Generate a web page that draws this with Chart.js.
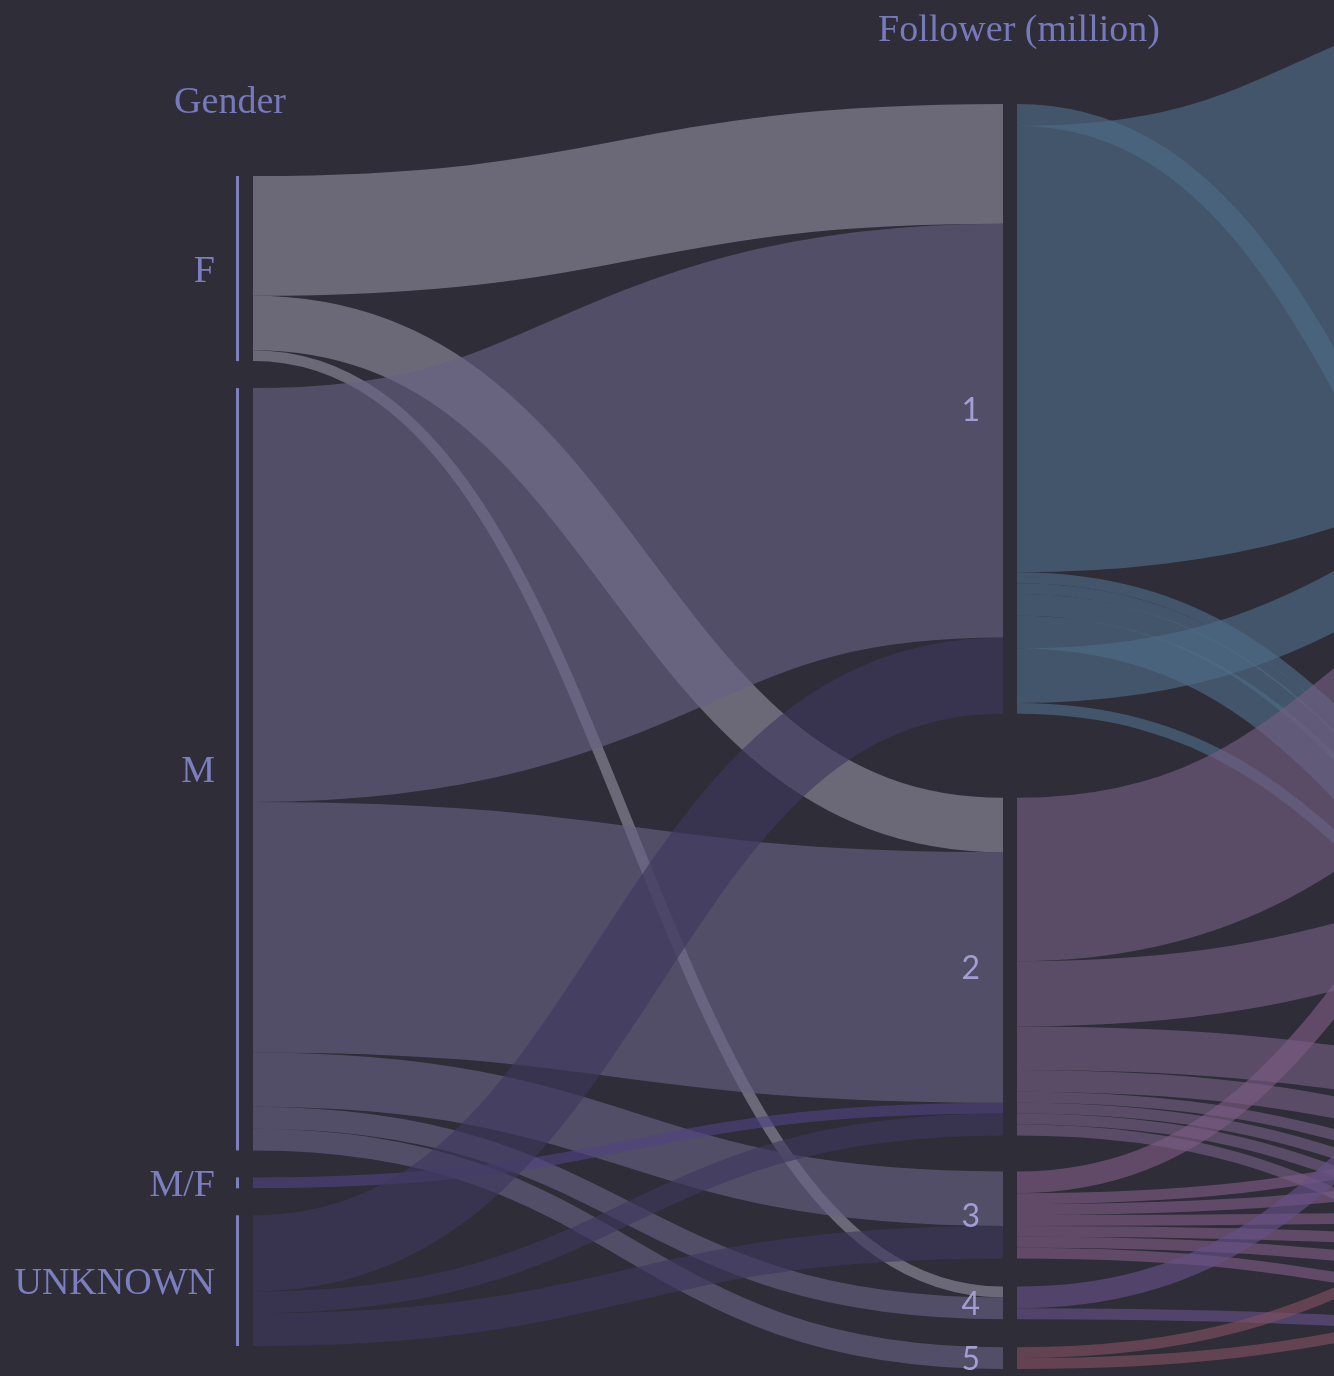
<!DOCTYPE html>
<html>
<head>
<meta charset="utf-8">
<script src="https://cdn.jsdelivr.net/npm/chart.js@4.4.1/dist/chart.umd.min.js"></script>
<style>
  html, body { margin: 0; padding: 0; background: #2e2d38; }
  #wrap { width: 1334px; height: 1376px; }
</style>
</head>
<body>
<div id="wrap"><canvas id="chart" width="1334" height="1376"></canvas></div>
<script>
// ---- data -------------------------------------------------------------
const axisTitles = ['Gender', 'Follower (million)'];
const genderCats = ['F', 'M', 'M/F', 'UNKNOWN'];
const followerCats = ['1', '2', '3', '4', '5'];

// accounts per gender (rows) and follower band (columns)
const genderFollower = [
  [11, 5, 0, 1, 0],
  [38, 23, 5, 2, 2],
  [0, 1, 0, 0, 0],
  [7, 2, 3, 0, 0]
];

// third dimension, whose axis sits past the right edge of the canvas
const nextGroups = ['g1', 'g2', 'g3', 'g4', 'g5', 'g6', 'g7', 'g8', 'g9', 'g10', 'g11', 'g12', 'g13'];
// follower band -> group flows, in the order they leave each band
const nextFrom  = [0, 0, 0, 0, 0, 0, 0, 0,   1, 1, 1, 1, 1, 1, 1, 1,   2, 2, 2, 2, 2, 2, 2,   3, 3,   4, 4];
const nextTo    = [2, 0, 3, 4, 5, 6, 1, 7,   1, 2, 7, 8, 9, 10, 11, 12, 1, 7, 8, 9, 10, 11, 12, 2, 12,  8, 11];
const nextCount = [2, 41, 1, 1, 2, 3, 5, 1,  15, 6, 4, 2, 1, 1, 1, 1,  2, 1, 1, 1, 1, 1, 1,   2, 1,   1, 1];

// ---- layout & style ---------------------------------------------------
const layout = {
  nodeWidth: 14,
  // vertical placement of each axis in account units: first node top, gaps between nodes
  axes: [
    { top: 16.16, gaps: [2.48, 2.48, 2.48] },
    { top: 9.55, gaps: [7.71, 3.31, 2.57, 2.57] },
    { top: -3.95, gaps: [3.08, 14.45, 0.93, 0.93, 0.93, 0.93, 0.93, 0.93, 0.93, 0.93, 0.93, 0.93] }
  ]
};
const style = {
  background: '#2e2d38',
  linkAlpha: 0.65,
  genderColors: ['#8c899a', '#676182', '#4e437f', '#3d395d'],
  followerColors: ['#4e6c86', '#725e7f', '#7b5a83', '#655085', '#805060'],
  axisLine: '#7b80c0',
  labelColor: '#7b7fc0',
  tickColor: '#a19ed2',
  titleColor: '#7779bd',
  labelFont: '38px "Liberation Serif", serif',
  tickFont: '32px Lato, "Open Sans", sans-serif'
};

// ---- build nodes and links ---------------------------------------------
function stackNodes(values, axis) {
  const nodes = [];
  let y = axis.top;
  values.forEach((v, i) => {
    if (i > 0) y += axis.gaps[i - 1];
    nodes.push({ y0: y, value: v, outUsed: 0, inUsed: 0 });
    y += v;
  });
  return nodes;
}

const genderTotals = genderFollower.map(r => r.reduce((a, b) => a + b, 0));
const followerTotals = followerCats.map((_, j) => genderFollower.reduce((a, r) => a + r[j], 0));
const groupTotals = nextGroups.map((_, k) =>
  nextCount.reduce((a, v, i) => a + (nextTo[i] === k ? v : 0), 0));

const axesNodes = [
  stackNodes(genderTotals, layout.axes[0]),
  stackNodes(followerTotals, layout.axes[1]),
  stackNodes(groupTotals, layout.axes[2])
];

const links = [];
// gender -> follower
genderFollower.forEach((row, g) => {
  row.forEach((v, f) => {
    if (!v) return;
    links.push({ dim: 0, s: g, t: f, v, color: style.genderColors[g] });
  });
});
// follower -> next group
nextCount.forEach((v, i) => {
  links.push({ dim: 1, s: nextFrom[i], t: nextTo[i], v, color: style.followerColors[nextFrom[i]] });
});

// source offsets follow listing order
links.forEach(l => {
  const sn = axesNodes[l.dim][l.s];
  l.sy = sn.y0 + sn.outUsed + l.v / 2;
  sn.outUsed += l.v;
});
// target offsets follow source node order, then listing order
[0, 1].forEach(dim => {
  const group = links.filter(l => l.dim === dim)
    .map((l, i) => ({ l, i }))
    .sort((a, b) => (a.l.s - b.l.s) || (a.i - b.i));
  group.forEach(({ l }) => {
    const tn = axesNodes[dim + 1][l.t];
    l.ty = tn.y0 + tn.inUsed + l.v / 2;
    tn.inUsed += l.v;
  });
});

function hexToRgba(hex, a) {
  const n = parseInt(hex.slice(1), 16);
  return `rgba(${(n >> 16) & 255},${(n >> 8) & 255},${n & 255},${a})`;
}

// ---- drawing plugin ---------------------------------------------------
const parallelSets = {
  id: 'parallelSets',
  beforeDraw(chart) {
    const { ctx, width, height } = chart;
    ctx.save();
    ctx.fillStyle = style.background;
    ctx.fillRect(0, 0, width, height);
    ctx.restore();
  },
  afterDatasetsDraw(chart) {
    const { ctx } = chart;
    const xs = chart.scales.x, ys = chart.scales.y;
    const unit = Math.abs(ys.getPixelForValue(1) - ys.getPixelForValue(0));
    const nw = layout.nodeWidth;

    ctx.save();
    ctx.lineCap = 'butt';
    links.forEach(l => {
      const x0 = xs.getPixelForValue(l.dim) + nw;
      const x1 = xs.getPixelForValue(l.dim + 1);
      const xm = (x0 + x1) / 2;
      const y0 = ys.getPixelForValue(l.sy);
      const y1 = ys.getPixelForValue(l.ty);
      ctx.beginPath();
      ctx.moveTo(x0, y0);
      ctx.bezierCurveTo(xm, y0, xm, y1, x1, y1);
      ctx.lineWidth = l.v * unit;
      ctx.strokeStyle = hexToRgba(l.color, style.linkAlpha);
      ctx.stroke();
    });

    // gender axis rules
    const gx = xs.getPixelForValue(0);
    ctx.fillStyle = style.axisLine;
    axesNodes[0].forEach(n => {
      const top = ys.getPixelForValue(n.y0);
      const bot = ys.getPixelForValue(n.y0 + n.value);
      ctx.fillRect(gx - 3, top, 3, bot - top);
    });

    // category labels
    ctx.textBaseline = 'middle';
    ctx.textAlign = 'right';
    ctx.font = style.labelFont;
    ctx.fillStyle = style.labelColor;
    genderCats.forEach((c, i) => {
      const n = axesNodes[0][i];
      ctx.fillText(c, gx - 24, ys.getPixelForValue(n.y0 + n.value / 2) + 3);
    });
    const fx = xs.getPixelForValue(1);
    ctx.font = style.tickFont;
    ctx.fillStyle = style.tickColor;
    followerCats.forEach((c, i) => {
      const n = axesNodes[1][i];
      ctx.fillText(c, fx - 23, ys.getPixelForValue(n.y0 + n.value / 2) + 2);
    });

    // axis titles
    ctx.textAlign = 'center';
    ctx.textBaseline = 'alphabetic';
    ctx.font = style.labelFont;
    ctx.fillStyle = style.titleColor;
    axisTitles.forEach((t, d) => {
      const first = axesNodes[d][0];
      const cx = xs.getPixelForValue(d) + (d === 0 ? -9 : 16);
      ctx.fillText(t, cx, ys.getPixelForValue(first.y0) - 63);
    });
    ctx.restore();
  }
};

new Chart(document.getElementById('chart'), {
  type: 'scatter',
  data: { datasets: [] },
  options: {
    responsive: false,
    devicePixelRatio: 1,
    animation: false,
    layout: { padding: 0 },
    plugins: { legend: { display: false }, tooltip: { enabled: false }, title: { display: false } },
    scales: {
      x: { type: 'linear', display: false, min: -239 / 764, max: (1334 - 239) / 764 },
      y: { type: 'linear', display: false, reverse: true, min: 0, max: 1376 / 10.89 }
    }
  },
  plugins: [parallelSets]
});
</script>
</body>
</html>
